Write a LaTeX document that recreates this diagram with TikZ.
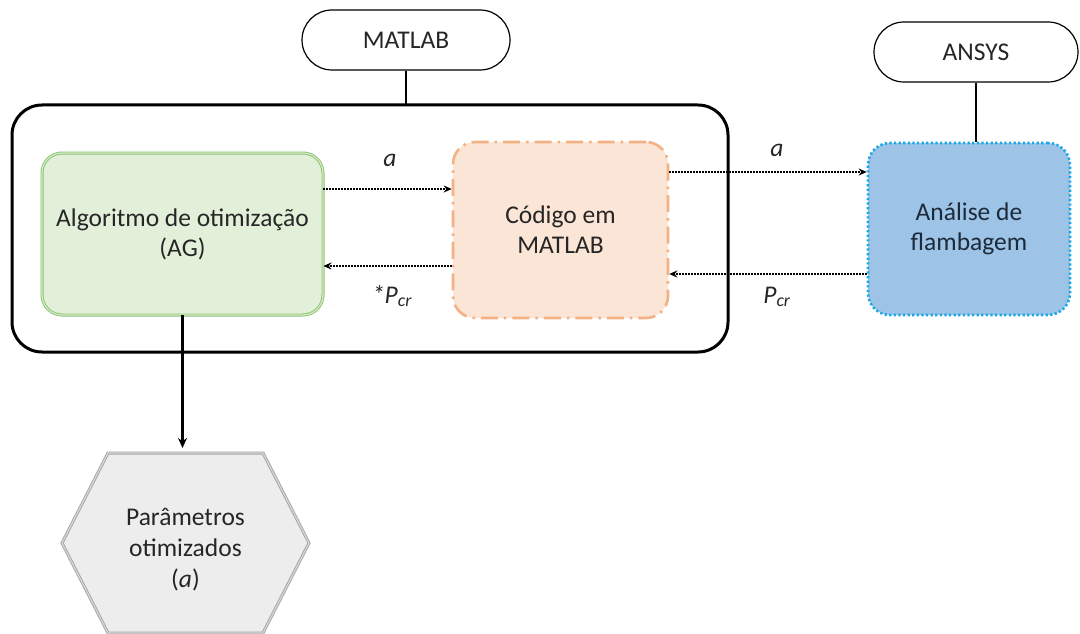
\documentclass[tikz,border=0pt]{standalone}
\usepackage{fontspec}
\setmainfont{Carlito}
\usetikzlibrary{arrows.meta}

\definecolor{txt}{HTML}{262626}
\definecolor{navytxt}{HTML}{1C2A3A}
\definecolor{greenfill}{HTML}{E2F0D9}
\definecolor{greenline}{HTML}{8CC26E}
\definecolor{greeninner}{HTML}{D5EACB}
\definecolor{orangefill}{HTML}{FBE5D6}
\definecolor{orangeline}{HTML}{F4B183}
\definecolor{bluefill}{HTML}{9DC3E6}
\definecolor{blueline}{HTML}{1AA7E6}
\definecolor{hexfill}{HTML}{EDEDED}
\definecolor{hexline}{HTML}{A5A5A5}

\tikzset{
  lbl/.style={font=\fontsize{25.5}{30}\selectfont, text=txt, align=center},
  pill/.style={lbl, draw=black, line width=1.2pt, rounded corners=30pt,
    minimum height=60pt, inner sep=0pt},
  frame/.style={draw=black, line width=3pt, rounded corners=30pt},
  greenbox/.style={lbl, fill=greenfill, draw=greenline, line width=0.9pt,
    double=greeninner, double distance=1.2pt, rounded corners=20pt,
    minimum width=281pt, minimum height=162pt},
  orangebox/.style={lbl, fill=orangefill, draw=orangeline, line width=2.6pt,
    dash pattern=on 17pt off 6pt on 2.5pt off 6pt, rounded corners=22pt,
    minimum width=215pt, minimum height=176pt},
  bluebox/.style={lbl, text=navytxt, fill=bluefill, draw=blueline, line width=2.6pt,
    dash pattern=on 2.2pt off 2.4pt, rounded corners=22pt,
    minimum width=202pt, minimum height=172pt},
  hexshape/.style={fill=hexfill, draw=hexline, line width=0.9pt,
    double=hexfill!70!hexline, double distance=1.2pt},
  flow/.style={draw=black, line width=1.3pt, dash pattern=on 1.6pt off 1.4pt,
    -{Stealth[length=8pt,width=7pt]}},
  mainflow/.style={draw=black, line width=2.6pt,
    -{Stealth[length=10pt,width=9pt]}},
  link/.style={draw=black, line width=1.3pt},
  tag/.style={lbl, font=\fontsize{25.5}{30}\selectfont\itshape}
}

\begin{document}
\begin{tikzpicture}[x=1pt, y=-1pt]
  \useasboundingbox (0,0) rectangle (1080,634);

  % MATLAB environment frame and its label
  \draw[frame] (12,105) rectangle (728,352);
  \coordinate (frametop) at (406,105);
  \node[pill, minimum width=208pt] (matlab) at (406,40) {MATLAB};
  \draw[link] (matlab.south) -- (frametop);

  % process blocks
  \node[greenbox] (green) at (182.5,234) {Algoritmo de otimização\\(AG)};
  \node[orangebox] (orange) at (560.5,230) {Código em\\MATLAB};
  \node[bluebox] (blue) at (969,229) {Análise de\\flambagem};

  % ANSYS label
  \node[pill, minimum width=204pt] (ansys) at (976,52) {ANSYS};
  \draw[link] (ansys.south) -- (ansys.south |- blue.north);

  % data exchange
  \draw[flow] ([yshift=45pt]green.east) -- ([yshift=45pt]green.east -| orange.west);
  \draw[flow] ([yshift=-36pt]orange.west) -- ([yshift=-36pt]orange.west -| green.east);
  \draw[flow] ([yshift=58pt]orange.east) -- ([yshift=58pt]orange.east -| blue.west);
  \draw[flow] ([yshift=-45pt]blue.west) -- ([yshift=-45pt]blue.west -| orange.east);

  \node[tag] (a1) at (390,160) {a};
  \node[tag] (p1) at (392,296) {*P\textsubscript{cr}};
  \node[tag] (a2) at (777,150) {a};
  \node[tag] (p2) at (777,297) {P\textsubscript{cr}};

  % optimised output
  \draw[hexshape] (62,543) -- (108,453) -- (263,453) -- (309,543)
    -- (263,633) -- (108,633) -- cycle;
  \coordinate (hextop) at (185.5,453);
  \node[lbl, font=\fontsize{25.5}{31}\selectfont] (params) at (185.5,550)
    {Parâmetros\\otimizados\\(\textit{a})};
  \draw[mainflow, shorten >=5pt] (green.south) -- (green.south |- hextop);
\end{tikzpicture}
\end{document}
